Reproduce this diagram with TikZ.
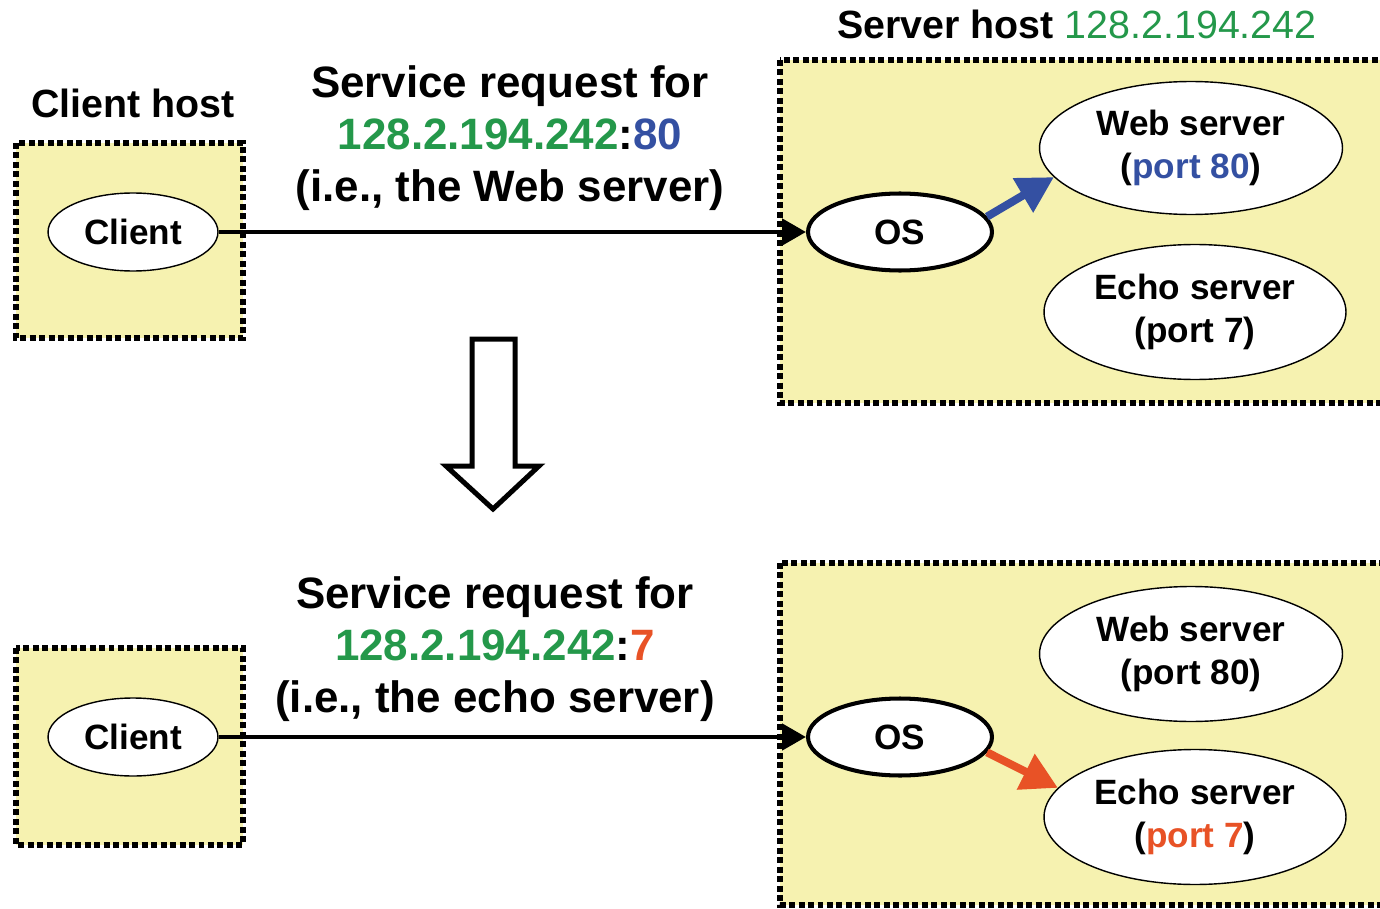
\documentclass[tikz,border=0pt]{standalone}
\usepackage{fontspec}
\setmainfont{Liberation Sans}
\usetikzlibrary{shapes.geometric,arrows.meta,positioning}

\definecolor{ipgreen}{RGB}{36,152,74}
\definecolor{portblue}{RGB}{52,80,162}
\definecolor{portred}{RGB}{232,82,38}
\definecolor{hostfill}{RGB}{246,242,176}

\begin{document}
\begin{tikzpicture}[x=0.02cm,y=-0.02cm,
  host/.style={draw,line width=3.2pt,dash pattern=on 3.4pt off 2pt,fill=hostfill},
  proc/.style={ellipse,draw,fill=white,inner sep=0pt,line width=0.8pt,
    font=\fontsize{20}{24.5}\selectfont\bfseries,align=center},
  hdr/.style={anchor=base,inner sep=0pt,font=\fontsize{22.4}{27}\selectfont\bfseries},
  req/.style={inner sep=0pt,align=center,font=\fontsize{25}{29.6}\selectfont\bfseries},
  sendarrow/.style={line width=2.8pt,-{Triangle[length=0.48cm,width=0.52cm]}},
  pickarrow/.style={line width=0.16cm,-{Triangle[length=0.72cm,width=0.76cm]}}]
 \clip (0,0) rectangle (1380,909);

 % before: request for port 80
 \draw[host] (16,143) rectangle (243,338);
 \draw[host] (780,60) rectangle (1400,403);
 \node[hdr] (chost) at (133,118) {Client host};
 \node[hdr] (shost) at (1077,39) {Server host \textcolor{ipgreen}{\mdseries 128.2.194.242}};
 \node[proc,minimum width=3.4cm,minimum height=1.56cm] (client1) at (133,232) {Client};
 \node[proc,line width=2.3pt,minimum width=3.68cm,minimum height=1.54cm] (os1) at (900,232) {OS};
 \node[proc,minimum width=6.06cm,minimum height=2.66cm] (web1) at (1191,148) {Web server\\(\textcolor{portblue}{port 80})};
 \node[proc,minimum width=6.04cm,minimum height=2.7cm] (echo1) at (1195,312) {Echo server\\(port 7)};
 \node[req] (req1) at (510,138) {Service request for\\
   \textcolor{ipgreen}{128.2.194.242}:\textcolor{portblue}{80}\\(i.e., the Web server)};
 \draw[sendarrow] (client1.east) -- (os1.west);
 \draw[pickarrow,portblue] (os1.10) -- (web1.192);

 % switch
 \draw[line width=0.1cm] (472,339) -- (515,339) -- (515,466) -- (539,466)
   -- (493,509) -- (446,466) -- (472,466) -- cycle;

 % after: request for port 7
 \draw[host] (16,648) rectangle (243,845);
 \draw[host] (780,563) rectangle (1400,905);
 \node[proc,minimum width=3.4cm,minimum height=1.56cm] (client2) at (133,737) {Client};
 \node[proc,line width=2.3pt,minimum width=3.68cm,minimum height=1.54cm] (os2) at (900,737) {OS};
 \node[proc,minimum width=6.06cm,minimum height=2.7cm] (web2) at (1191,654) {Web server\\(port 80)};
 \node[proc,minimum width=6.04cm,minimum height=2.7cm] (echo2) at (1195,817) {Echo server\\(\textcolor{portred}{port 7})};
 \node[req] (req2) at (495,649) {Service request for\\
   \textcolor{ipgreen}{128.2.194.242}:\textcolor{portred}{7}\\(i.e., the echo server)};
 \draw[sendarrow] (client2.east) -- (os2.west);
 \draw[pickarrow,portred] (os2.-10) -- (echo2.168);
\end{tikzpicture}
\end{document}
